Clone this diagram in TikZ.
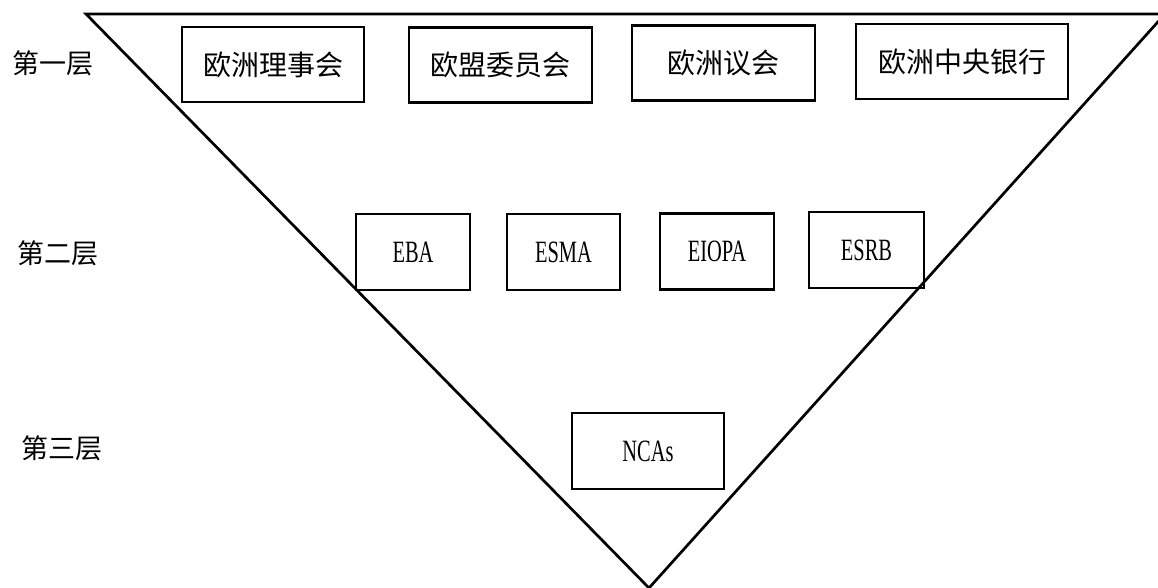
\documentclass[tikz,border=0pt]{standalone}
\usepackage{fontspec}
\newfontfamily\cjk{Noto Sans CJK SC}
\newfontfamily\lat[FakeStretch=0.66]{Liberation Serif}
\begin{document}
\begin{tikzpicture}[x=1pt,y=-1pt,
  box/.style={draw=black, line width=2.8pt, inner sep=0pt, font=\fontsize{28}{28}\selectfont\cjk},
  topbox/.style={box, minimum height=75pt},
  midbox/.style={box, minimum width=114pt, minimum height=76pt, font=\fontsize{31}{31}\selectfont\lat},
  layer/.style={font=\fontsize{27}{27}\selectfont\cjk, inner sep=0pt},
  edge/.style={line width=2.7pt, line join=miter}]
\useasboundingbox (0,0) rectangle (1158,588);
\fill[white] (0,0) rectangle (1158,588);
\coordinate (tl) at (86,14);
\coordinate (tr) at (1165,14);
\coordinate (bt) at (649,588);
\begin{scope}
\clip (0,0) rectangle (1158,588);
\draw[edge] (tl) -- (tr) -- (bt) -- cycle;
\end{scope}
\node[layer] (l1) at (53,63) {第一层};
\node[layer] (l2) at (58,253) {第二层};
\node[layer] (l3) at (62,448) {第三层};
\node[topbox, minimum width=182pt] (a1) at (273,64.5) {欧洲理事会};
\node[topbox, minimum width=183pt] (a2) at (500.5,65) {欧盟委员会};
\node[topbox, minimum width=183pt] (a3) at (723.5,63) {欧洲议会};
\node[topbox, minimum width=212pt] (a4) at (962,61.5) {欧洲中央银行};
\node[midbox] (b1) at (413,252) {EBA};
\node[midbox, minimum width=113pt] (b2) at (563.5,252) {ESMA};
\node[midbox] (b3) at (717,251.5) {EIOPA};
\node[midbox, minimum width=115pt] (b4) at (866.5,250) {ESRB};
\node[midbox, minimum width=152pt] (c1) at (648,451) {NCAs};
\end{tikzpicture}
\end{document}
